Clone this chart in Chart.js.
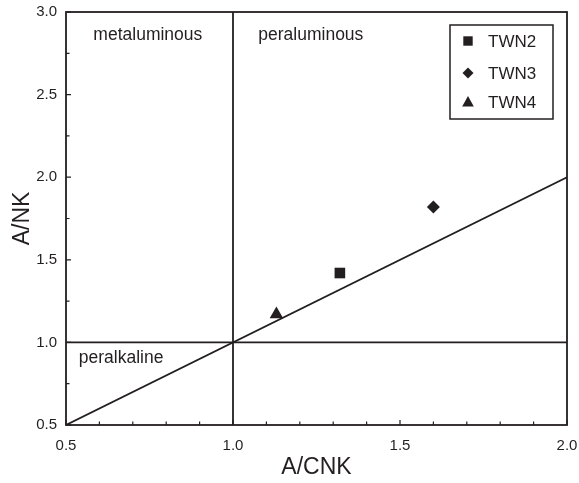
<!DOCTYPE html>
<html>
<head>
<meta charset="utf-8">
<script src="https://cdn.jsdelivr.net/npm/chart.js@4"></script>
<style>
  body { margin: 0; background: #fff; }
  canvas { display: block; }
</style>
</head>
<body>
<canvas id="grafica" width="579" height="483"></canvas>
<script>
// muestras y sus valores
const muestras = ['TWN2', 'TWN3', 'TWN4'];
const valoresACNK = [1.32, 1.60, 1.13];
const valoresANK = [1.42, 1.82, 1.17];
const marcadores = ['rect', 'rectRot', 'triangle'];
const radios = [7.5, 6.5, 7.8];

// lineas de division (x, y)
const lineasX = [[1.0, 1.0], [0.5, 2.0], [0.5, 2.0]];
const lineasY = [[0.5, 3.0], [1.0, 1.0], [0.5, 2.0]];

// nombres de los campos
const campos = ['metaluminous', 'peraluminous', 'peralkaline'];
const camposX = [0.745, 1.233, 0.665];
const camposY = [2.86, 2.86, 0.905];

// marcas de los ejes
const ticksX = [0.5, 1.0, 1.5, 2.0];
const ticksXmenores = [0.6, 0.7, 0.8, 0.9, 1.1, 1.2, 1.3, 1.4, 1.6, 1.7, 1.8, 1.9];
const ticksY = [0.5, 1.0, 1.5, 2.0, 2.5, 3.0];
const ticksYmenores = [0.75, 1.25, 1.75, 2.25, 2.75];

const colorTinta = '#231f20';
const fuente = '"Liberation Sans", Arial, sans-serif';

const datasets = [];
lineasX.forEach((xs, i) => {
  datasets.push({
    label: 'linea' + i,
    data: xs.map((x, j) => ({ x: x, y: lineasY[i][j] })),
    showLine: true,
    borderColor: colorTinta,
    borderWidth: 1.8,
    pointRadius: 0
  });
});
muestras.forEach((m, i) => {
  datasets.push({
    label: m,
    data: [{ x: valoresACNK[i], y: valoresANK[i] }],
    pointStyle: marcadores[i],
    pointRadius: radios[i],
    backgroundColor: colorTinta,
    borderColor: colorTinta,
    borderWidth: 0
  });
});

// dibuja marco, marcas, textos y leyenda
const extras = {
  id: 'extras',
  afterDraw(chart) {
    const ctx = chart.ctx;
    const a = chart.chartArea;
    const sx = chart.scales.x, sy = chart.scales.y;
    ctx.save();
    ctx.strokeStyle = colorTinta;
    ctx.lineWidth = 1.8;
    ctx.strokeRect(a.left, a.top, a.right - a.left, a.bottom - a.top);

    ctx.lineWidth = 1.2;
    ctx.beginPath();
    ticksX.forEach(v => { const p = sx.getPixelForValue(v); ctx.moveTo(p, a.bottom); ctx.lineTo(p, a.bottom - 5); });
    ticksXmenores.forEach(v => { const p = sx.getPixelForValue(v); ctx.moveTo(p, a.bottom); ctx.lineTo(p, a.bottom - 3.5); });
    ticksY.forEach(v => { const p = sy.getPixelForValue(v); ctx.moveTo(a.left, p); ctx.lineTo(a.left + 5, p); });
    ticksYmenores.forEach(v => { const p = sy.getPixelForValue(v); ctx.moveTo(a.left, p); ctx.lineTo(a.left + 3.5, p); });
    ctx.stroke();

    // nombres de campos
    ctx.fillStyle = colorTinta;
    ctx.font = '17.5px ' + fuente;
    ctx.textAlign = 'center';
    ctx.textBaseline = 'middle';
    campos.forEach((c, i) => {
      ctx.fillText(c, sx.getPixelForValue(camposX[i]), sy.getPixelForValue(camposY[i]));
    });

    // leyenda
    const bx = a.right - 117, by = a.top + 13, bw = 103, bh = 94;
    ctx.lineWidth = 1.5;
    ctx.strokeRect(bx, by, bw, bh);
    ctx.font = '17px ' + fuente;
    ctx.textAlign = 'left';
    const filas = [16, 48, 77];
    muestras.forEach((m, i) => {
      const cx = bx + 18, cy = by + filas[i];
      ctx.beginPath();
      if (marcadores[i] === 'rect') {
        ctx.rect(cx - 4.7, cy - 4.7, 9.4, 9.4);
      } else if (marcadores[i] === 'rectRot') {
        ctx.moveTo(cx, cy - 5.5); ctx.lineTo(cx + 5.5, cy); ctx.lineTo(cx, cy + 5.5); ctx.lineTo(cx - 5.5, cy);
      } else {
        ctx.moveTo(cx, cy - 6); ctx.lineTo(cx + 5.8, cy + 4.5); ctx.lineTo(cx - 5.8, cy + 4.5);
      }
      ctx.closePath();
      ctx.fill();
      ctx.fillText(m, bx + 38, cy + 1);
    });
    ctx.restore();
  }
};

const ctx = document.getElementById('grafica').getContext('2d');
const miGrafica = new Chart(ctx, {
  type: 'scatter',
  data: { datasets: datasets },
  plugins: [extras],
  options: {
    responsive: false,
    animation: false,
    layout: { padding: { top: 12, right: 12, left: 0, bottom: 0 } },
    plugins: {
      legend: { display: false },
      tooltip: { enabled: false }
    },
    scales: {
      x: {
        type: 'linear',
        min: 0.5,
        max: 2.0,
        afterFit: s => { s.height = 58; s.paddingLeft = 0; s.paddingRight = 0; },
        afterBuildTicks: s => { s.ticks = ticksX.map(v => ({ value: v })); },
        grid: { display: false, drawTicks: false },
        border: { display: false },
        ticks: {
          padding: 12,
          color: colorTinta,
          font: { family: fuente, size: 15 },
          callback: v => Number(v).toFixed(1)
        },
        title: {
          display: true,
          text: 'A/CNK',
          color: colorTinta,
          font: { family: fuente, size: 23 },
          padding: { top: 0, bottom: 2 }
        }
      },
      y: {
        type: 'linear',
        min: 0.5,
        max: 3.0,
        afterFit: s => { s.width = 66; s.paddingTop = 0; s.paddingBottom = 0; },
        afterBuildTicks: s => { s.ticks = ticksY.map(v => ({ value: v })); },
        grid: { display: false, drawTicks: false },
        border: { display: false },
        ticks: {
          padding: 9,
          color: colorTinta,
          font: { family: fuente, size: 15 },
          callback: v => Number(v).toFixed(1)
        },
        title: {
          display: true,
          text: 'A/NK',
          color: colorTinta,
          font: { family: fuente, size: 23 },
          padding: { top: 9, bottom: 0 }
        }
      }
    }
  }
});
</script>
</body>
</html>
